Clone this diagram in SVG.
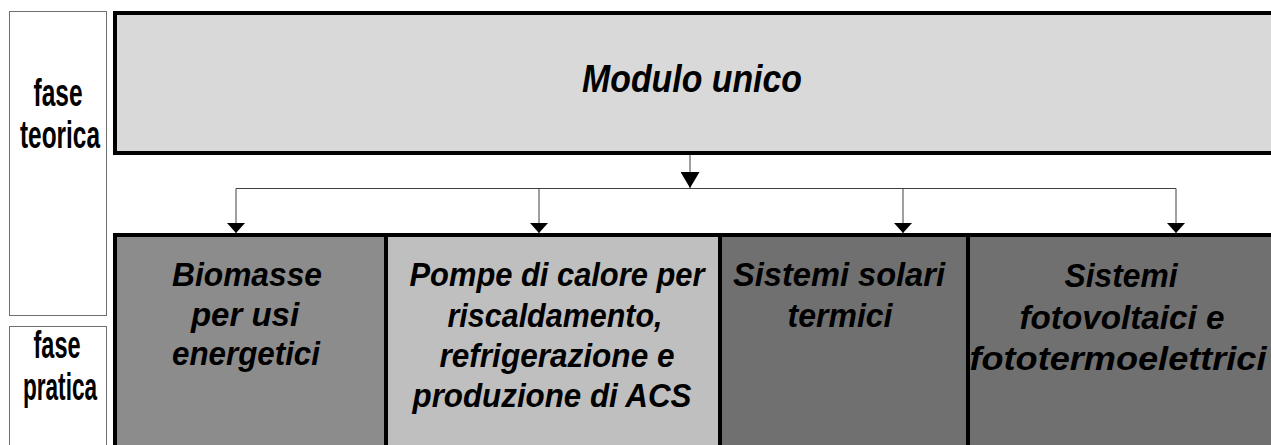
<svg xmlns="http://www.w3.org/2000/svg" width="1271" height="445" viewBox="0 0 1271 445">
<style>
.side{fill:#ffffff;stroke:#707070;stroke-width:1}
.box{stroke:#000000;stroke-width:4}
.ph{font-family:"Liberation Sans",Arial,sans-serif;font-weight:bold;font-size:38px;fill:#000;text-anchor:middle}
.t{font-family:"Liberation Sans",Arial,sans-serif;font-weight:bold;font-style:italic;font-size:33px;fill:#000;text-anchor:middle}
.title{font-family:"Liberation Sans",Arial,sans-serif;font-weight:bold;font-style:italic;font-size:38px;fill:#000;text-anchor:middle}
.conn{fill:none;stroke:#404040;stroke-width:1}
</style>
<defs>
<marker id="big" viewBox="0 0 16 19" refX="16" refY="9.5" markerWidth="16" markerHeight="19" markerUnits="userSpaceOnUse" orient="auto"><path d="M0,0 L16,9.5 L0,19 z" fill="#000"/></marker>
<marker id="small" viewBox="0 0 10 18" refX="10" refY="9" markerWidth="10" markerHeight="18" markerUnits="userSpaceOnUse" orient="auto"><path d="M0,0 L10,9 L0,18 z" fill="#000"/></marker>
</defs>
<rect width="1271" height="445" fill="#ffffff"/>
<g id="fase-teorica">
<rect class="side" x="9.5" y="11.5" width="97" height="304"/>
<text class="ph" x="58" y="106" textLength="49" lengthAdjust="spacingAndGlyphs">fase</text>
<text class="ph" x="60" y="148" textLength="80" lengthAdjust="spacingAndGlyphs">teorica</text>
</g>
<g id="fase-pratica">
<rect class="side" x="9.5" y="326.5" width="97" height="130"/>
<text class="ph" x="57" y="358" textLength="47" lengthAdjust="spacingAndGlyphs">fase</text>
<text class="ph" x="60" y="400" textLength="74" lengthAdjust="spacingAndGlyphs">pratica</text>
</g>
<g id="modulo-unico">
<rect class="box" x="115" y="13" width="1180" height="140" fill="#d9d9d9"/>
<text class="title" x="692" y="92" textLength="220" lengthAdjust="spacingAndGlyphs">Modulo unico</text>
</g>
<g id="connectors">
<path class="conn" d="M690,155 V188" marker-end="url(#big)"/>
<path class="conn" d="M236,188.5 H1176"/>
<path class="conn" d="M236,188.5 V233" marker-end="url(#small)"/>
<path class="conn" d="M539,188.5 V233" marker-end="url(#small)"/>
<path class="conn" d="M903,188.5 V233" marker-end="url(#small)"/>
<path class="conn" d="M1176,188.5 V233" marker-end="url(#small)"/>
</g>
<g id="biomasse">
<rect class="box" x="115" y="235" width="271" height="230" fill="#8c8c8c"/>
<text class="t" x="247" y="286" textLength="150" lengthAdjust="spacingAndGlyphs">Biomasse</text>
<text class="t" x="245" y="326">per usi</text>
<text class="t" x="246" y="365" textLength="148" lengthAdjust="spacingAndGlyphs">energetici</text>
</g>
<g id="pompe">
<rect class="box" x="386" y="235" width="334" height="230" fill="#bfbfbf"/>
<text class="t" x="557" y="286" textLength="295" lengthAdjust="spacingAndGlyphs">Pompe di calore per</text>
<text class="t" x="555" y="327" textLength="215" lengthAdjust="spacingAndGlyphs">riscaldamento,</text>
<text class="t" x="557" y="367" textLength="235" lengthAdjust="spacingAndGlyphs">refrigerazione e</text>
<text class="t" x="552" y="407" textLength="279" lengthAdjust="spacingAndGlyphs">produzione di ACS</text>
</g>
<g id="solari">
<rect class="box" x="720" y="235" width="248" height="230" fill="#707070"/>
<text class="t" x="839" y="286" textLength="212" lengthAdjust="spacingAndGlyphs">Sistemi solari</text>
<text class="t" x="840" y="327" textLength="105" lengthAdjust="spacingAndGlyphs">termici</text>
</g>
<g id="fotovoltaici">
<rect class="box" x="968" y="235" width="330" height="230" fill="#707070"/>
<text class="t" x="1121" y="287" textLength="113" lengthAdjust="spacingAndGlyphs">Sistemi</text>
<text class="t" x="1122" y="329" textLength="205" lengthAdjust="spacingAndGlyphs">fotovoltaici e</text>
<text class="t" x="1118" y="370" textLength="297" lengthAdjust="spacingAndGlyphs">fototermoelettrici</text>
</g>
</svg>
